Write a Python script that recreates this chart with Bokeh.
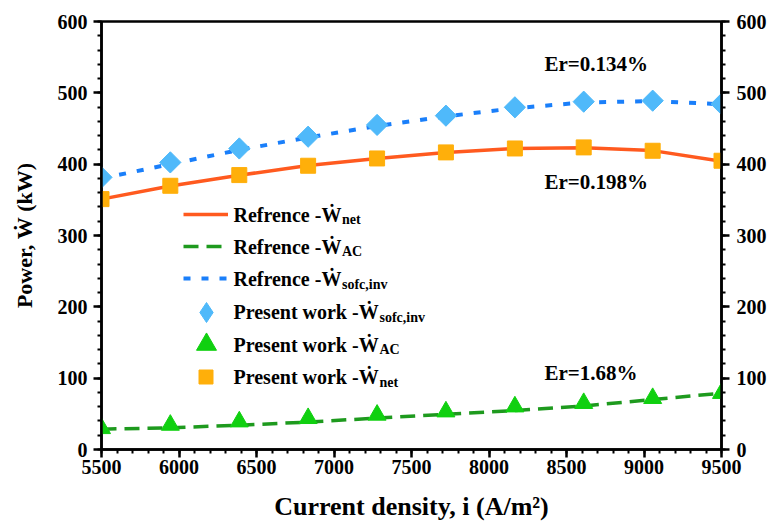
import math
from bokeh.plotting import figure
from bokeh.models import (Range1d, LinearAxis, SingleIntervalTicker, Label,
                          Legend, LegendItem)
from bokeh.embed import file_html
from bokeh.resources import INLINE

# ---------------- data ----------------
current_density = [5500, 5944, 6389, 6833, 7278, 7722, 8167, 8611, 9056, 9500]

ref_w_net = [351, 369.5, 384.5, 398, 408, 416.5, 422, 423, 419, 404]
ref_w_ac = [28.5, 30.5, 34, 38.5, 44, 49.5, 54.5, 61, 70, 79]
ref_w_sofc_inv = [380, 400, 420, 437.5, 453.5, 467, 478.5, 486.5, 488.5, 484]

pw_w_sofc_inv = [381.5, 402.5, 422, 438.5, 455, 468, 479.7, 487.6, 489, 484.4]
pw_w_ac = [29.6, 34.3, 39, 43.7, 48.4, 53, 60, 64.8, 71.8, 78.9]
pw_w_net = [351, 369.7, 384.7, 397.8, 408, 416.5, 422, 423.5, 418.8, 404.8]

x_ticks_interval = 500
y_ticks_interval = 100
error_texts = ["Er=0.134%", "Er=0.198%", "Er=1.68%"]

legend_main = ["Refrence -Ẇ", "Refrence -Ẇ", "Refrence -Ẇ",
               "Present work -Ẇ", "Present work -Ẇ", "Present work -Ẇ"]
legend_sub = ["net", "AC", "sofc,inv", "sofc,inv", "AC", "net"]

# ---------------- layout constants (screen pixels) ----------------
W, H = 772, 524
FL, FR, FT, FB = 101, 721, 21, 448.3
XMIN, XMAX, YMIN, YMAX = 5500, 9500, 0, 600
FONT = "Liberation Serif"
TEXT_SHIFT = -7.0


def dx(px):
    return XMIN + (px - FL) / (FR - FL) * (XMAX - XMIN)


def dy(py):
    return YMIN + (FB - (py + TEXT_SHIFT)) / (FB - FT) * (YMAX - YMIN)


p = figure(width=W, height=H, x_range=Range1d(XMIN, XMAX), y_range=Range1d(YMIN, YMAX),
           output_backend="svg", toolbar_location=None,
           min_border_left=FL, min_border_right=W - FR, min_border_top=FT,
           min_border_bottom=int(H - FB))
p.background_fill_color = "white"
p.border_fill_color = "white"
p.xgrid.visible = False
p.ygrid.visible = False
p.outline_line_color = "black"
p.outline_line_width = 2.5
p.outline_line_alpha = 1.0

right_axis = LinearAxis()
p.add_layout(right_axis, "right")

p.xaxis[0].ticker = SingleIntervalTicker(interval=x_ticks_interval, num_minor_ticks=5)
for ax in [p.yaxis[0], right_axis]:
    ax.ticker = SingleIntervalTicker(interval=y_ticks_interval, num_minor_ticks=5)

for ax in [p.xaxis[0], p.yaxis[0], right_axis]:
    ax.axis_line_width = 2.5
    ax.axis_line_color = "black"
    ax.major_tick_line_width = 2.5
    ax.major_tick_line_color = "black"
    ax.major_tick_out = 8
    ax.major_tick_in = 0
    ax.minor_tick_line_width = 2
    ax.minor_tick_line_color = "black"
    ax.minor_tick_out = 4
    ax.minor_tick_in = 0
    ax.major_label_text_font = FONT
    ax.major_label_text_font_style = "bold"
    ax.major_label_text_font_size = "20px"
    ax.major_label_text_color = "black"
    ax.axis_label_text_font = FONT
    ax.axis_label_text_font_style = "bold"
    ax.axis_label_text_color = "black"

p.xaxis[0].major_label_standoff = 2
p.yaxis[0].major_label_standoff = 6
right_axis.major_label_standoff = 7

p.xaxis[0].axis_label = "Current density, i (A/m²)"
p.xaxis[0].axis_label_text_font_size = "26px"
p.xaxis[0].axis_label_standoff = 15
p.yaxis[0].axis_label = "Power, Ẇ (kW)"
p.yaxis[0].axis_label_text_font_size = "22px"
p.yaxis[0].axis_label_standoff = 18

# ---------------- reference curves ----------------
r_net = p.line(current_density, ref_w_net, line_color="#FF5A1F", line_width=3.5)
r_ac = p.line(current_density, ref_w_ac, line_color="#1E9A1E", line_width=3.5,
              line_dash="15 8")
r_sofc = p.line(current_density, ref_w_sofc_inv, line_color="#1A7FFA", line_width=4,
                line_dash="7 11")

# ---------------- present work markers ----------------
# thin diamond kept underneath the rotated squares: used for the legend swatch
m_sofc_key = p.scatter(current_density, pw_w_sofc_inv, marker="diamond", size=19,
                       fill_color="#4FB9FA", line_color="#4FB9FA")
m_sofc = p.scatter(current_density, pw_w_sofc_inv, marker="square", size=15,
                   angle=math.pi / 4, fill_color="#4FB9FA", line_color="#4FB9FA")
m_ac = p.scatter(current_density, pw_w_ac, marker="triangle", size=18,
                 fill_color="#10D010", line_color="#10D010")
m_net = p.scatter(current_density, pw_w_net, marker="square", size=15,
                  fill_color="#FFAF0A", line_color="#FFAF0A")

# ---------------- legend (one row per Legend, labels drawn as text) ----------------
row_centers = [213.3, 245.7, 277.7, 311.0, 343.3, 375.7]
row_renderers = [r_net, r_ac, r_sofc, m_sofc_key, m_ac, m_net]
glyph_heights = [20, 20, 20, 50, 50, 35]
GLYPH_LEFT = 183
for rend, cy, gh in zip(row_renderers, row_centers, glyph_heights):
    bottom = cy + gh / 2
    leg = Legend(items=[LegendItem(label=" ", renderers=[rend])],
                 location=(GLYPH_LEFT - FL, FB - bottom),
                 glyph_width=max(45, gh), glyph_height=gh, label_height=1, label_width=1,
                 label_standoff=0, padding=0, margin=0, spacing=0,
                 border_line_color=None, background_fill_alpha=0,
                 label_text_font_size="1px")
    if gh > 45:
        leg.location = (GLYPH_LEFT - FL - (gh - 45) / 2, FB - bottom)
    p.add_layout(leg)

sub_x = [341.5, 341.5, 341.5, 379.0, 379.0, 379.0]
for main, sub, cy, sx in zip(legend_main, legend_sub, row_centers, sub_x):
    p.add_layout(Label(x=dx(233), y=dy(cy + 7.4), text=main, text_font=FONT,
                       text_font_style="bold", text_font_size="20px",
                       text_color="black", text_baseline="alphabetic", text_align="left"))
    p.add_layout(Label(x=dx(sx), y=dy(cy + 12.4), text=sub, text_font=FONT,
                       text_font_style="bold", text_font_size="14px",
                       text_color="black", text_baseline="alphabetic", text_align="left"))

# ---------------- error annotations ----------------
er_baselines = [70, 188.7, 379]
for txt, by in zip(error_texts, er_baselines):
    p.add_layout(Label(x=dx(544), y=dy(by), text=txt, text_font=FONT,
                       text_font_style="bold", text_font_size="21px",
                       text_color="black", text_baseline="alphabetic", text_align="left"))

open("out.html", "w").write(file_html(p, INLINE))
